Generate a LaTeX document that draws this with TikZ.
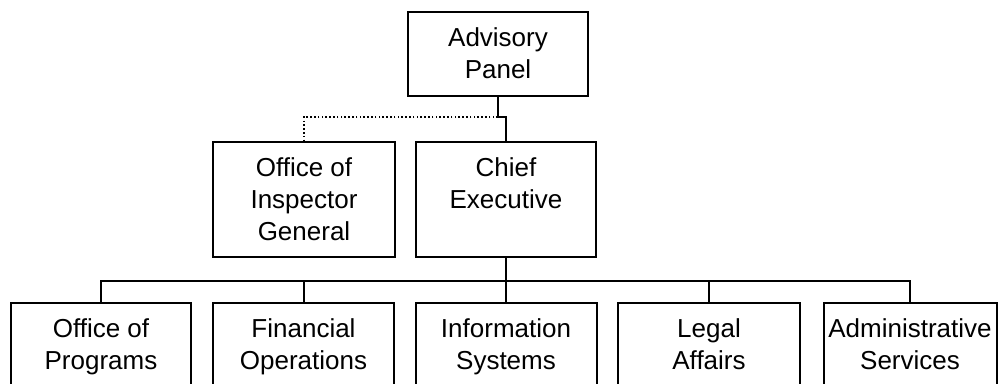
\documentclass[tikz,border=0pt]{standalone}
\usepackage{fontspec}
\setmainfont{Liberation Sans}
\newcommand\bxt[3]{\parbox[c][#2][t]{#1}{\centering\rule{0pt}{34pt}#3}}
\begin{document}
\begin{tikzpicture}[x=1pt,y=-1pt,
  box/.style={draw, line width=2pt, inner sep=0pt, fill=white,
    font=\fontsize{26}{32}\selectfont},
  link/.style={line width=2pt},
  dotlink/.style={line width=1.6pt, dash pattern=on 1.6pt off 2.2pt}]
\useasboundingbox (0,0) rectangle (1003,383);
\fill[white] (0,0) rectangle (1003,383);
\clip (0,0) rectangle (1003,383);
\node[box, minimum width=180pt, minimum height=84pt] (ap) at (498,54) {\bxt{180pt}{84pt}{Advisory\\Panel}};
\node[box, minimum width=182pt, minimum height=115pt] (oig) at (304,199.5) {\bxt{182pt}{115pt}{Office of\\Inspector\\General}};
\node[box, minimum width=180pt, minimum height=115pt] (ce) at (506,199.5) {\bxt{180pt}{115pt}{Chief\\Executive}};
\node[box, minimum width=180pt, minimum height=110pt] (b1) at (101,358) {\bxt{180pt}{110pt}{Office of\\Programs}};
\node[box, minimum width=181pt, minimum height=110pt] (b2) at (303.5,358) {\bxt{181pt}{110pt}{Financial\\Operations}};
\node[box, minimum width=181pt, minimum height=110pt] (b3) at (506,358) {\bxt{181pt}{110pt}{Information\\Systems}};
\node[box, minimum width=182pt, minimum height=110pt] (b4) at (709,358) {\bxt{182pt}{110pt}{Legal\\Affairs}};
\node[box, minimum width=173pt, minimum height=110pt] (b5) at (910,358) {\bxt{173pt}{110pt}{Administrative\\Services}};
\coordinate (jog) at (0,117);
\coordinate (bus) at (0,281);
\draw[link] (ap.south) -- (ap.south |- jog) -| (ce.north);
\draw[dotlink] (ap.south |- jog) -| (oig.north);
\draw[link] (ce.south) -- (ce.south |- bus);
\draw[link] (b1.north) -- (b1.north |- bus) -- (b5.north |- bus) -- (b5.north);
\draw[link] (b2.north) -- (b2.north |- bus);
\draw[link] (b3.north) -- (b3.north |- bus);
\draw[link] (b4.north) -- (b4.north |- bus);
\end{tikzpicture}
\end{document}
